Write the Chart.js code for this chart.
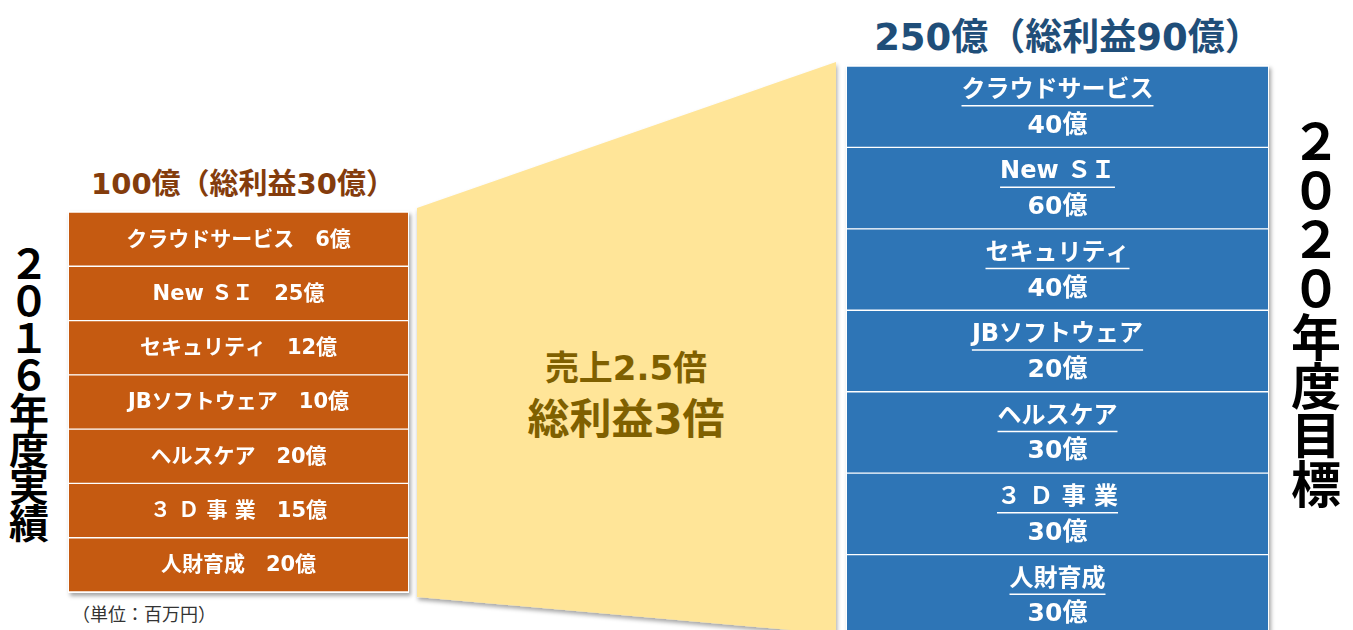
<!DOCTYPE html>
<html lang="ja">
<head>
<meta charset="utf-8">
<script src="https://cdn.jsdelivr.net/npm/chart.js@4/dist/chart.umd.min.js"></script>
<style>
  html, body { margin:0; padding:0; width:1353px; height:630px; overflow:hidden; background:#fff;
    font-family:"DejaVu Sans","Noto Sans CJK JP",sans-serif; }
  .abs { position:absolute; }
  .title { font-weight:700; white-space:nowrap; text-align:center; }
  .vert { font-weight:700; color:#000; text-align:center; font-family:"Noto Sans CJK JP",sans-serif; }
  .vert span { display:block; }
  .col { background:#fff; box-shadow:2px 3px 4px rgba(0,0,0,0.35); }
  .col canvas { position:absolute; }
</style>
</head>
<body>
<script>
// ---- data ----
const leftTitle = "100億（総利益30億）";
const rightTitle = "250億（総利益90億）";
const leftYear = "２０１６年度実績";
const rightYear = "２０２０年度目標";
const categories = ["クラウドサービス", "New ＳＩ", "セキュリティ", "JBソフトウェア", "ヘルスケア", "３ Ｄ 事 業", "人財育成"];
const values2016 = [6, 25, 12, 10, 20, 15, 20];   // 億
const values2020 = [40, 60, 40, 20, 30, 30, 30];  // 億
// every business is drawn as one equal-height tile, as in the original diagram
const tiles2016 = [1, 1, 1, 1, 1, 1, 1];
const tiles2020 = [1, 1, 1, 1, 1, 1, 1];
const growthLines = ["売上2.5倍", "総利益3倍"];
const unitNote = "（単位：百万円）";
</script>

<svg class="abs" style="left:0;top:0" width="1353" height="630">
  <defs>
    <filter id="sh" x="-5%" y="-5%" width="110%" height="115%">
      <feDropShadow dx="1" dy="3" stdDeviation="2" flood-color="#000" flood-opacity="0.35"/>
    </filter>
  </defs>
  <polygon points="417,208 836,62 836,634 417,597" fill="#FFE598" filter="url(#sh)"/>
</svg>

<div id="ltitle" class="abs title" style="left:68px;top:160px;width:350px;font-size:29px;color:#843C0C;"></div>
<div id="rtitle" class="abs title" style="left:848px;top:7px;width:440px;font-size:37px;color:#1F4E79;"></div>

<div id="lyear" class="abs vert" style="left:6px;top:244px;width:46px;font-size:40px;line-height:37px;"></div>
<div id="ryear" class="abs vert" style="left:1288px;top:114px;width:56px;font-size:50px;line-height:49px;"></div>

<div id="mid" class="abs title" style="left:510px;top:344px;width:232px;color:#7F6000;">
  <div id="mid1" style="font-size:34px;line-height:48px;"></div>
  <div id="mid2" style="font-size:42px;line-height:56px;"></div>
</div>

<div id="unit" class="abs" style="left:72px;top:600px;font-size:18px;color:#333;white-space:nowrap;font-family:'Noto Sans CJK JP',sans-serif;"></div>

<div class="abs col" style="left:68px;top:211px;width:341px;height:382px;">
  <div class="abs" style="left:1px;top:1px;width:339px;height:380px;"><canvas id="c2016"></canvas></div>
</div>
<div class="abs col" style="left:846px;top:65px;width:423px;height:580px;">
  <div class="abs" style="left:1px;top:1px;width:421px;height:570px;"><canvas id="c2020"></canvas></div>
</div>

<script>
document.getElementById('ltitle').textContent = leftTitle;
document.getElementById('rtitle').textContent = rightTitle;
document.getElementById('mid1').textContent = growthLines[0];
document.getElementById('mid2').textContent = growthLines[1];
document.getElementById('unit').textContent = unitNote;
function vert(id, s) {
  const el = document.getElementById(id);
  for (const ch of s) { const sp = document.createElement('span'); sp.textContent = ch; el.appendChild(sp); }
}
vert('lyear', leftYear);
vert('ryear', rightYear);

const FONT = '"DejaVu Sans","Noto Sans CJK JP",sans-serif';

const leftLabelPlugin = {
  id: 'leftLabels',
  afterDatasetsDraw(chart) {
    const ctx = chart.ctx, ca = chart.chartArea;
    const cx = (ca.left + ca.right) / 2;
    ctx.save();
    ctx.fillStyle = '#fff';
    ctx.font = '700 21px ' + FONT;
    ctx.textAlign = 'center';
    ctx.textBaseline = 'middle';
    chart.getDatasetMeta(0).data.forEach((bar, i) => {
      ctx.fillText(categories[i] + '　' + values2016[i] + '億', cx, bar.y + 1);
    });
    ctx.restore();
  }
};

const rightLabelPlugin = {
  id: 'rightLabels',
  afterDatasetsDraw(chart) {
    const ctx = chart.ctx, ca = chart.chartArea;
    const cx = (ca.left + ca.right) / 2;
    ctx.save();
    ctx.fillStyle = '#fff';
    ctx.strokeStyle = '#fff';
    ctx.textAlign = 'center';
    ctx.textBaseline = 'middle';
    chart.getDatasetMeta(0).data.forEach((bar, i) => {
      ctx.font = '700 24px ' + FONT;
      const name = categories[i];
      ctx.fillText(name, cx, bar.y - 16);
      const w = ctx.measureText(name).width;
      ctx.lineWidth = 1.5;
      ctx.beginPath();
      ctx.moveTo(cx - w / 2, bar.y - 1);
      ctx.lineTo(cx + w / 2, bar.y - 1);
      ctx.stroke();
      ctx.font = '700 25px ' + FONT;
      ctx.fillText(values2020[i] + '億', cx, bar.y + 19.5);
    });
    ctx.restore();
  }
};

function column(id, tiles, color, plugin) {
  return new Chart(document.getElementById(id), {
    type: 'bar',
    data: {
      labels: categories,
      datasets: [{
        data: tiles,
        backgroundColor: color,
        borderColor: 'rgba(255,255,255,0.85)',
        borderWidth: { top: 1, bottom: 1, left: 0, right: 0 },
        borderSkipped: false,
        barPercentage: 1,
        categoryPercentage: 1
      }]
    },
    options: {
      indexAxis: 'y',
      responsive: true,
      maintainAspectRatio: false,
      animation: false,
      layout: { padding: 0 },
      plugins: { legend: { display: false }, tooltip: { enabled: false }, title: { display: false } },
      scales: {
        x: { display: false, min: 0, max: 1 },
        y: { display: false }
      }
    },
    plugins: [plugin]
  });
}
column('c2016', tiles2016, '#C55A11', leftLabelPlugin);
column('c2020', tiles2020, '#2E75B6', rightLabelPlugin);
</script>
</body>
</html>
